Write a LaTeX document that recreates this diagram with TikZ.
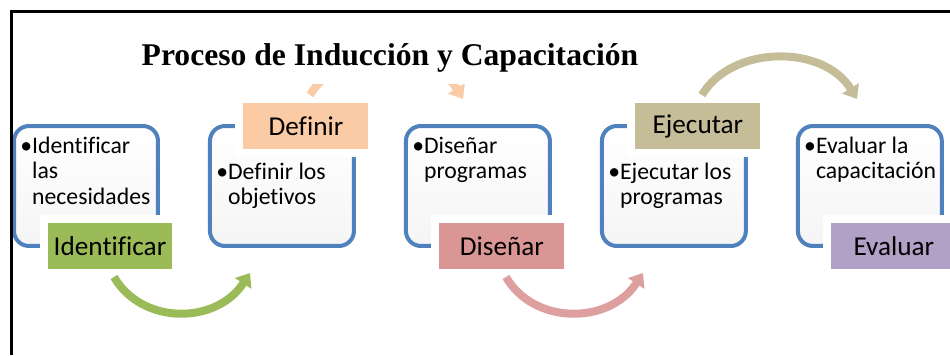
\documentclass[tikz,border=0pt]{standalone}
\usepackage{fontspec}
\setmainfont{Carlito}[Ligatures=NoCommon]
\newfontfamily\titlefont{Liberation Serif}
\usetikzlibrary{arrows.meta, positioning, calc}
\definecolor{boxblue}{RGB}{79,129,189}
\definecolor{identgreen}{RGB}{155,187,89}
\definecolor{defpeach}{RGB}{251,203,166}
\definecolor{disred}{RGB}{217,150,148}
\definecolor{ejetan}{RGB}{196,189,151}
\definecolor{evalpurple}{RGB}{178,161,199}

\tikzset{
    stagebox/.style={draw=boxblue, line width=0.08cm, rounded corners=0.3cm, top color=white, bottom color=black!4,
        minimum width=2.88cm, minimum height=2.4cm, inner sep=0pt, outer sep=0pt},
    itemtext/.style={anchor=base west, inner sep=0pt, font=\fontsize{13.5}{14.7}\selectfont},
    steplabel/.style={draw=white, line width=0.16cm, minimum width=2.66cm, minimum height=1.08cm,
        font=\fontsize{15.5}{18}\selectfont},
    flowarrow/.style={line width=0.16cm, -{Triangle[width=0.38cm, length=0.25cm]}},
    titletext/.style={anchor=base, fill=white, inner xsep=6pt, inner ysep=7pt,
        font=\titlefont\bfseries\fontsize{18}{22}\selectfont}
}
\newcommand{\itemlines}[1]{\textbullet\begin{tabular}[t]{@{}l@{}}#1\end{tabular}}

\begin{document}
\begin{tikzpicture}[x=0.02cm, y=-0.02cm]
    \useasboundingbox (0,0) rectangle (950,355);

    % Stage boxes
    \node[stagebox] (b1) at (86,186) {};
    \node[stagebox, right=1.04cm of b1] (b2) {};
    \node[stagebox, right=1.04cm of b2] (b3) {};
    \node[stagebox, right=1.04cm of b3] (b4) {};
    \node[stagebox, right=1.04cm of b4] (b5) {};

    % Box texts
    \node[itemtext] (i1) at ($(b1.north west)+(6,27)$) {\itemlines{Identificar\\las\\necesidades}};
    \node[itemtext] (i2) at ($(b2.north west)+(6,53)$) {\itemlines{Definir los\\objetivos}};
    \node[itemtext] (i3) at ($(b3.north west)+(6,27)$) {\itemlines{Diseñar\\programas}};
    \node[itemtext] (i4) at ($(b4.north west)+(6,53)$) {\itemlines{Ejecutar los\\programas}};
    \node[itemtext] (i5) at ($(b5.north west)+(6,27)$) {\itemlines{Evaluar la\\capacitación}};

    % Step labels
    \node[steplabel, fill=identgreen] (l1) at ($(b1.south)+(24,0)$) {Identificar};
    \node[steplabel, fill=defpeach] (l2) at ($(b2.north)+(24,0)$) {Definir};
    \node[steplabel, fill=disred] (l3) at ($(b3.south)+(24,0)$) {Diseñar};
    \node[steplabel, fill=ejetan] (l4) at ($(b4.north)+(24,0)$) {Ejecutar};
    \node[steplabel, fill=evalpurple] (l5) at ($(b5.south)+(24,0)$) {Evaluar};

    % Curved arrows
    \coordinate (t1) at (250,273);
    \coordinate (t2) at (463,99);
    \coordinate (t3) at (643,273);
    \coordinate (t4) at (857,99);
    \draw[flowarrow, identgreen] ($(l1.south)+(4,0)$) .. controls +(28,48) and +(-34,52) .. (t1);
    \draw[flowarrow, defpeach] ($(l2.north)+(4,0)$) .. controls +(30,-50) and +(-34,-55) .. (t2);
    \draw[flowarrow, disred!90] ($(l3.south)+(4,0)$) .. controls +(28,48) and +(-34,52) .. (t3);
    \draw[flowarrow, ejetan] ($(l4.north)+(4,0)$) .. controls +(30,-50) and +(-34,-55) .. (t4);

    % Title
    \node[titletext] (title) at (390,65) {Proceso de Inducción y Capacitación};

    % Frame
    \draw[line width=0.06cm] (11.5,355) -- (11.5,11.5) -- (950,11.5);
\end{tikzpicture}
\end{document}
